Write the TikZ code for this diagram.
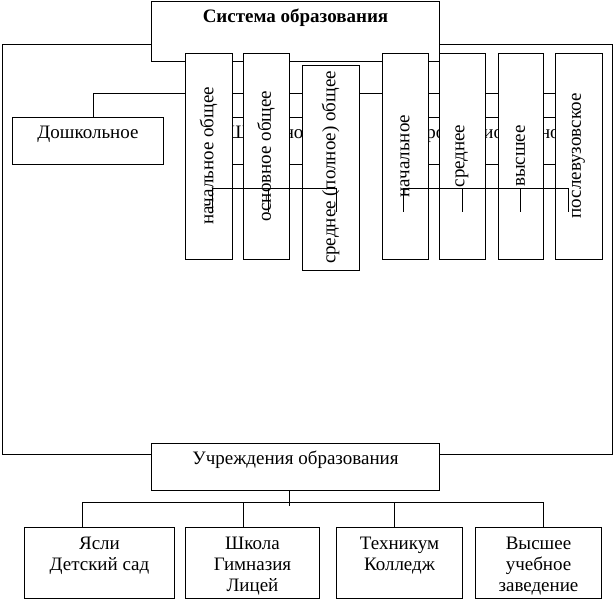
\documentclass[tikz,border=0pt]{standalone}
\usepackage{fontspec}
\setmainfont{Liberation Serif}
\usetikzlibrary{calc,positioning}
\newcommand\mytext{\fontsize{19}{21}\selectfont}
\newcommand\mybold{\fontsize{19}{21}\selectfont\bfseries}

\begin{document}
\begin{tikzpicture}[
  x=1pt, y=-1pt,
  line width=1pt,
  mybox/.style={
    draw,
    fill=white,
    inner sep=0pt,
    font=\mytext,
    minimum width=#1,
    text height=21pt,
    text depth=26pt,
    anchor=north west
    },
  myvert/.style={
    draw,
    fill=white,
    inner sep=0pt,
    font=\mytext,
    rotate=90,
    minimum width=206pt,
    minimum height=#1
    },
  mytwo/.style={
    mybox=#1,
    align=center,
    text height=43pt,
    text depth=28pt
    },
  mythree/.style={
    mybox=#1,
    align=center,
    text height=64pt,
    text depth=7pt
    }
]
\useasboundingbox (0,0) rectangle (614,600);

\node[mybox=288pt, text depth=39pt, font=\mybold] (sys) at (151,1) {Система образования};
\node[mybox=288pt] (inst) at (151,443) {Учреждения образования};

\coordinate (frTL) at (2,44);
\coordinate (frBL) at (2,454);
\coordinate (frTR) at (612,44);
\coordinate (frBR) at (612,454);
\draw (sys.west |- frTL) -- (frTL) -- (frBL) -- (inst.west |- frBL);
\draw (sys.east |- frTR) -- (frTR) -- (frBR) -- (inst.east |- frBR);

\node[mybox=151pt] (presch) at (12,117) {Дошкольное};
\node[mybox=160pt] (school) at (190,117) {Школьное};
\node[mybox=170pt] (prof) at (405,117) {Профессиональное};

\coordinate (tapD) at (93,93);
\coordinate (busEnd) at (565,93);
\draw (tapD) -- (busEnd);
\draw (tapD) -- (tapD |- presch.north);

\node[myvert=47pt] (nach) at (208.5,156) {начальное общее};
\node[myvert=46pt] (osn) at (266,156) {основное общее};
\node[myvert=57pt, minimum width=205pt] (sred) at (330.5,167.5) {среднее (полное) общее};
\node[myvert=46pt] (pnach) at (405,156) {начальное};
\node[myvert=46pt] (psred) at (462,156) {среднее};
\node[myvert=45pt] (pvys) at (520.5,156) {высшее};
\node[myvert=47pt] (ppost) at (578.5,156) {послевузовское};

\foreach \x [count=\i] in {212,268,336}
  \coordinate (s\i) at (\x,188);
\draw (s1) -- (s3);
\foreach \i in {1,2,3}
  \draw (s\i) -- ++(0,24);

\foreach \x [count=\i] in {403,462,520,568}
  \coordinate (p\i) at (\x,188);
\draw (p1) -- (p4);
\foreach \i in {1,...,4}
  \draw (p\i) -- ++(0,24);

\node[mytwo=150pt] (yasli) at (24,527) {Ясли\\Детский сад};
\node[mythree=134pt] (shkola) at (185,527) {Школа\\Гимназия\\Лицей};
\node[mytwo=126pt] (tekh) at (336,527) {Техникум\\Колледж};
\node[mythree=126pt] (vuz) at (475,527) {Высшее\\учебное\\заведение};

\coordinate (itap) at (289,502);
\draw (itap |- inst.south) -- ([yshift=-4pt]itap);
\foreach \x [count=\i] in {82,243,394,543}
  \coordinate (b\i) at (\x,502);
\draw (b1) -- (b4);
\foreach \i/\nm in {1/yasli,2/shkola,3/tekh,4/vuz}
  \draw (b\i) -- (b\i |- \nm.north);

\end{tikzpicture}
\end{document}
